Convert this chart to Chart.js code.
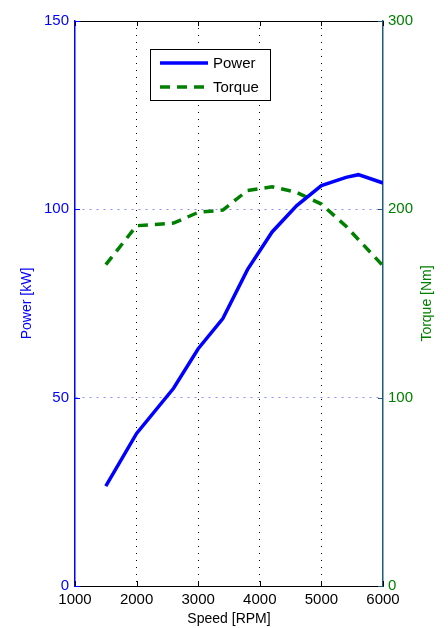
<!DOCTYPE html>
<html>
<head>
<meta charset="utf-8">
<script src="https://cdn.jsdelivr.net/npm/chart.js@4.4.1/dist/chart.umd.min.js"></script>
<style>
html,body{margin:0;padding:0;background:#fff;}
#wrap{width:448px;height:628px;}
</style>
</head>
<body>
<div id="wrap"><canvas id="c" width="448" height="628"></canvas></div>
<script>
const speedRpm = [1500, 2000, 2600, 3000, 3400, 3800, 4200, 4600, 5000, 5400, 5600, 6000];
const powerKw = [26.5, 40.5, 52.5, 63, 71, 84, 94, 101, 106.3, 108.5, 109.2, 107];
const torqueNm = [170.6, 191.3, 192.7, 198.4, 199.6, 210, 212, 209, 202.8, 191, 184, 170];
const xTicks = [1000, 2000, 3000, 4000, 5000, 6000];
const powerTicks = [0, 50, 100, 150];
const torqueTicks = [0, 100, 200, 300];
const seriesNames = ['Power', 'Torque'];
const torqueTitle = 'Torque [Nm]';

const FONT = 'Liberation Sans, Arial, Helvetica, sans-serif';

const frame = {
  id: 'frame',
  afterDraw(chart) {
    const ctx = chart.ctx, a = chart.chartArea;
    const sx = chart.scales.x, sy = chart.scales.y, sy1 = chart.scales.y1;
    ctx.save();
    ctx.strokeStyle = '#000'; ctx.lineWidth = 1;
    ctx.beginPath(); ctx.moveTo(a.left, a.top + 0.5); ctx.lineTo(a.right, a.top + 0.5); ctx.stroke();
    const tl = 5;
    xTicks.forEach(v => {
      const px = Math.round(sx.getPixelForValue(v)) + 0.5;
      ctx.beginPath();
      ctx.moveTo(px, a.bottom); ctx.lineTo(px, a.bottom - tl);
      ctx.moveTo(px, a.top); ctx.lineTo(px, a.top + tl);
      ctx.stroke();
    });
    ctx.strokeStyle = '#0000ff';
    powerTicks.forEach(v => {
      const py = Math.round(sy.getPixelForValue(v)) + 0.5;
      ctx.beginPath(); ctx.moveTo(a.left, py); ctx.lineTo(a.left + tl, py); ctx.stroke();
    });
    ctx.strokeStyle = '#1b5c7a';
    torqueTicks.forEach(v => {
      const py = Math.round(sy1.getPixelForValue(v)) + 0.5;
      ctx.beginPath(); ctx.moveTo(a.right, py); ctx.lineTo(a.right - tl, py); ctx.stroke();
    });
    ctx.save();
    ctx.translate(427, (a.top + a.bottom) / 2);
    ctx.rotate(-Math.PI / 2);
    ctx.fillStyle = '#008000';
    ctx.font = '14px ' + FONT;
    ctx.textAlign = 'center';
    ctx.textBaseline = 'middle';
    ctx.fillText(torqueTitle, 0, 0);
    ctx.restore();
    const bx = 150.5, by = 49.5, bw = 120, bh = 51;
    ctx.fillStyle = '#fff';
    ctx.fillRect(bx, by, bw, bh);
    ctx.strokeStyle = '#000'; ctx.lineWidth = 1;
    ctx.strokeRect(bx, by, bw, bh);
    chart.data.datasets.forEach((ds, i) => {
      const ly = 63 + i * 24;
      ctx.strokeStyle = ds.borderColor;
      ctx.lineWidth = ds.borderWidth;
      ctx.setLineDash(ds.borderDash || []);
      ctx.beginPath(); ctx.moveTo(160, ly); ctx.lineTo(208, ly); ctx.stroke();
      ctx.setLineDash([]);
      ctx.fillStyle = '#000';
      ctx.font = '15px ' + FONT;
      ctx.textBaseline = 'middle';
      ctx.textAlign = 'left';
      ctx.fillText(ds.label, 213, ly + 1);
    });
    ctx.restore();
  }
};

new Chart(document.getElementById('c'), {
  type: 'line',
  data: {
    datasets: [
      {
        label: seriesNames[0],
        data: speedRpm.map((s, i) => ({x: s, y: powerKw[i]})),
        borderColor: '#0000ff',
        borderWidth: 3.5,
        pointRadius: 0,
        tension: 0,
        yAxisID: 'y'
      },
      {
        label: seriesNames[1],
        data: speedRpm.map((s, i) => ({x: s, y: torqueNm[i]})),
        borderColor: '#008000',
        borderWidth: 3.5,
        borderDash: [10, 7],
        pointRadius: 0,
        tension: 0,
        yAxisID: 'y1'
      }
    ]
  },
  options: {
    responsive: false,
    devicePixelRatio: 1,
    animation: false,
    layout: {padding: {top: 21, left: 0, right: 0, bottom: 0}},
    plugins: {legend: {display: false}, tooltip: {enabled: false}},
    scales: {
      x: {
        type: 'linear', min: 1000, max: 6000,
        afterBuildTicks: s => { s.ticks = xTicks.map(v => ({value: v})); },
        afterFit: s => { s.height = 42; },
        ticks: {color: '#000', font: {family: FONT, size: 15}, padding: 5, maxRotation: 0, callback: v => String(v)},
        grid: {
          drawTicks: false,
          color: c => (c.tick && c.tick.value > 1000 && c.tick.value < 6000) ? '#000' : 'rgba(0,0,0,0)',
          lineWidth: 1
        },
        border: {color: '#000', width: 1, dash: [1, 6]},
        title: {display: true, text: 'Speed [RPM]', color: '#000', font: {family: FONT, size: 14}, padding: {top: 0, bottom: 0}}
      },
      y: {
        type: 'linear', position: 'left', min: 0, max: 150,
        afterBuildTicks: s => { s.ticks = powerTicks.map(v => ({value: v})); },
        afterFit: s => { s.width = 75; },
        ticks: {color: '#0000ff', font: {family: FONT, size: 15}, padding: 6, callback: v => String(v)},
        grid: {
          drawTicks: false,
          color: c => (c.tick && c.tick.value > 0 && c.tick.value < 150) ? '#8c8cff' : 'rgba(0,0,0,0)',
          lineWidth: 1
        },
        border: {color: '#0000ff', width: 1.5, dash: [2, 5]},
        title: {display: true, text: 'Power [kW]', color: '#0000ff', font: {family: FONT, size: 14}, padding: {top: 19, bottom: 0}}
      },
      y1: {
        type: 'linear', position: 'right', min: 0, max: 300,
        afterBuildTicks: s => { s.ticks = torqueTicks.map(v => ({value: v})); },
        afterFit: s => { s.width = 65; },
        ticks: {color: '#008000', font: {family: FONT, size: 15}, padding: 5, callback: v => String(v)},
        grid: {drawTicks: false, drawOnChartArea: false},
        border: {color: '#1b5c7a', width: 1.5},
        title: {display: false}
      }
    }
  },
  plugins: [frame]
});
</script>
</body>
</html>
